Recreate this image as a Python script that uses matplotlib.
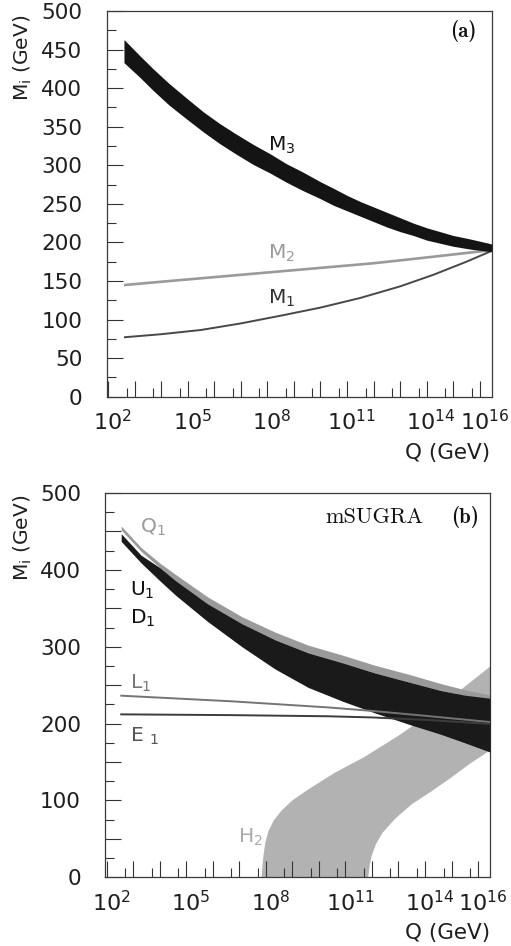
import numpy as np
import matplotlib
matplotlib.use("Agg")
import matplotlib.pyplot as plt
import matplotlib.transforms as mtrans
from matplotlib.ticker import FixedLocator, FuncFormatter, NullFormatter

plt.rcParams['font.family'] = ['DejaVu Sans']
plt.rcParams['mathtext.fontset'] = 'dejavusans'
plt.rcParams['mathtext.default'] = 'regular'

# ---------------- data: panel (a) gaugino masses ----------------
logq_m3 = [2.6, 3.2, 3.7, 4.3, 4.96, 5.6, 6.21, 6.8, 7.47, 8.1, 8.72, 9.35, 9.98,
           10.5, 11.0, 11.5, 12.0, 12.5, 13.0, 13.5, 14.0, 14.5, 15.0, 15.7, 16.45]
m3_hi = [463, 442, 425, 406, 387, 369, 354, 341, 327, 315, 302, 291, 279,
         270, 261, 253, 246, 239, 232, 225, 219, 214, 209, 204, 198]
m3_lo = [433, 414, 397, 378, 360, 343, 328, 315, 301, 290, 278, 267, 257,
         248, 241, 234, 227, 220, 214, 209, 203, 199, 195, 191, 188]

logq_m2 = [2.6, 4.0, 5.5, 7.0, 8.5, 10.0, 12.0, 14.0, 16.45]
m2 = [144.7, 149, 153.5, 158, 162.5, 167, 173, 180.5, 190]

logq_m1 = [2.6, 4.0, 5.5, 7.0, 8.5, 10.0, 11.5, 13.0, 14.25, 15.5, 16.45]
m1 = [77, 81, 86.5, 95, 105, 115.5, 128, 143, 158, 175, 189]

# ---------------- data: panel (b) scalar masses (mSUGRA) ----------------
logq_sq = [2.55, 3.3, 4.0, 4.6, 5.8, 7.1, 8.35, 9.6, 10.9, 12.1, 13.4, 14.6, 15.5, 16.45]
q1_hi = [457, 429, 409, 394, 365, 339, 319, 302, 289, 276, 264, 252, 244, 237]
q1_lo = [452, 424, 403, 386, 356, 330, 309, 292, 279, 266, 254, 243, 237, 233]
ud_hi = [447, 419, 403, 386, 356, 330, 309, 292, 279, 266, 254, 243, 237, 233]
ud_lo = [437, 409, 386, 367, 333, 300, 271, 247, 229, 214, 199, 186, 175, 163]

logq_sl = [2.55, 6.7, 10.36, 12.0, 14.2, 16.45]
l1 = [236.3, 229, 221, 216.5, 209.5, 202]
e1 = [212, 211, 209.5, 208, 204.5, 199.5]

# H2 band: upper (left) edge and lower (right) edge
logq_h2_up = [7.84, 7.9, 7.98, 8.1, 8.3, 8.6, 9.0, 9.5, 10.0, 10.6, 11.74, 12.99, 14.25, 15.5, 16.45]
h2_up = [0, 25, 45, 60, 74, 87, 100, 112, 123, 136, 157, 184, 214, 248, 274]
logq_h2_lo = [11.86, 11.92, 12.0, 12.15, 12.4, 12.9, 13.5, 14.25, 15.0, 15.7, 16.45]
h2_lo = [0, 17, 29, 43, 58, 77, 95, 112, 130, 148, 165]

xlabel_exps = [2, 5, 8, 11, 14, 16]

W, H = 511, 946
fig = plt.figure(figsize=(W / 100, H / 100), dpi=100)
axA = fig.add_axes([106.7 / W, 1 - 396.7 / H, 385 / W, 385.7 / H])
axB = fig.add_axes([105.3 / W, 1 - 877.3 / H, 384.7 / W, 384.3 / H])

def q(a):
    return 10.0 ** np.asarray(a, dtype=float)

# ---- panel (a)
axA.fill_between(q(logq_m3), m3_lo, m3_hi, color='#141414', lw=0, zorder=3)
axA.plot(q(logq_m2), m2, color='#9a9a9a', lw=1.9, zorder=2, solid_capstyle='butt')
axA.plot(q(logq_m1), m1, color='#484848', lw=1.4, zorder=2, solid_capstyle='butt')

axA.text(q(8.02), 319, r'M$_3$', fontsize=14.5, color='#141414', va='baseline')
axA.text(q(8.02), 179.4, r'M$_2$', fontsize=14.5, color='#9a9a9a', va='baseline')
axA.text(q(8.02), 120, r'M$_1$', fontsize=14.5, color='#333333', va='baseline')

# ---- panel (b)
hx = np.concatenate([q(logq_h2_up), q(logq_h2_lo)[::-1]])
hy = np.concatenate([h2_up, h2_lo[::-1]])
axB.fill(hx, hy, color='#b2b2b2', lw=0, zorder=1)
axB.fill_between(q(logq_sq), q1_lo, q1_hi, color='#9a9a9a', lw=0, zorder=2)
axB.fill_between(q(logq_sq), ud_lo, ud_hi, color='#1a1a1a', lw=0, zorder=3)
axB.plot(q(logq_sl), l1, color='#747474', lw=1.4, zorder=4)
axB.plot(q(logq_sl), e1, color='#3c3c3c', lw=1.4, zorder=4)

axB.text(q(3.26), 448, r'Q$_1$', fontsize=14.5, color='#9a9a9a', va='baseline')
axB.text(q(2.89), 366, r'U$_1$', fontsize=14.5, color='#111111', va='baseline')
axB.text(q(2.89), 329.6, r'D$_1$', fontsize=14.5, color='#111111', va='baseline')
axB.text(q(2.89), 246, r'L$_1$', fontsize=14.5, color='#777777', va='baseline')
axB.text(q(2.89), 177, r'E$\ {}_{1}$', fontsize=14.5, color='#555555', va='baseline')
axB.text(q(6.97), 44.8, r'H$_2$', fontsize=14.5, color='#aaaaaa', va='baseline')

# ---- common axis styling
for ax, ylab_step in ((axA, 50), (axB, 100)):
    ax.set_xscale('log')
    ax.set_xlim(q(1.95), q(16.45))
    ax.set_ylim(0, 500)
    ax.xaxis.set_major_locator(FixedLocator(q(np.arange(2, 17))))
    ax.xaxis.set_minor_locator(FixedLocator(5 * q(np.arange(2, 16))))
    ax.xaxis.set_major_formatter(NullFormatter())
    ax.xaxis.set_minor_formatter(NullFormatter())
    ax.yaxis.set_major_locator(FixedLocator(np.arange(0, 501, 50)))
    ax.yaxis.set_minor_locator(FixedLocator(np.arange(25, 500, 50)))
    ax.yaxis.set_major_formatter(FuncFormatter(
        lambda v, p, s=ylab_step: f'{int(round(v))}' if int(round(v)) % s == 0 else ''))
    ax.tick_params(which='major', direction='in', length=11.5, width=0.8,
                   color='#333333', top=False, right=False)
    ax.tick_params(which='minor', direction='in', length=6.3, width=0.8,
                   color='#333333', top=False, right=False)
    ax.tick_params(axis='y', which='major', pad=17.5, labelsize=15.5,
                   labelcolor='#1e1e1e')
    for sp in ax.spines.values():
        sp.set_color('#3a3a3a')
        sp.set_linewidth(0.9)
    trans = mtrans.blended_transform_factory(ax.transData, ax.transAxes) + \
        mtrans.ScaledTranslation(4.5 / 100, -12.5 / 100, fig.dpi_scale_trans)
    for e in xlabel_exps:
        ax.text(q(e), 0, f'$10^{{{e}}}$', transform=trans, ha='center', va='top',
                fontsize=16, color='#1e1e1e', clip_on=False)

# axis titles
for ybase, ytop in ((459, 15), (939, 494.7)):
    fig.text(490 / W, 1 - ybase / H, 'Q (GeV)', ha='right', va='baseline',
             fontsize=15.5, color='#1e1e1e')
    fig.text(23 / W, 1 - ytop / H, r'M$_i$ (GeV)', rotation=90, ha='center',
             va='top', fontsize=14.5, color='#1e1e1e')

fig.text(450 / W, 1 - 36.7 / H, '(a)', family='cmb10', fontsize=15,
         va='baseline', color='#111111')
fig.text(325 / W, 1 - 523 / H, 'mSUGRA', family='cmr10', fontsize=16,
         va='baseline', color='#111111')
fig.text(450.7 / W, 1 - 522.5 / H, '(b)', family='cmb10', fontsize=15,
         va='baseline', color='#111111')

fig.savefig('out.png', dpi=100)
